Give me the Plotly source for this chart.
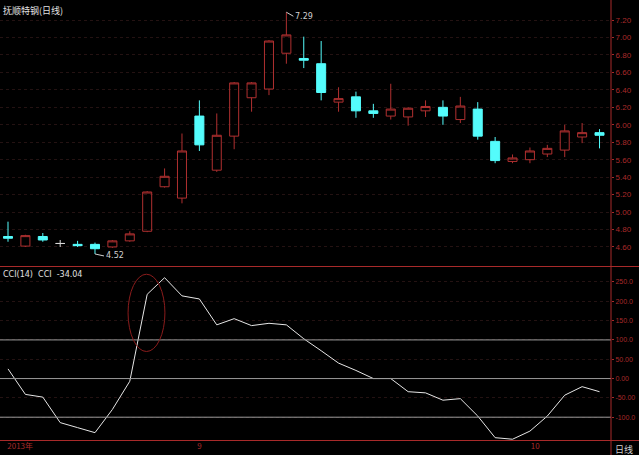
import plotly.graph_objects as go

# ---- data ----
idx = list(range(35))
opens  = [4.72, 4.61, 4.72, 4.64, 4.63, 4.63, 4.60, 4.67, 4.78, 5.29, 5.16, 6.10, 5.48, 5.87, 6.31, 6.41, 6.82, 6.76,
          6.70, 6.26, 6.32, 6.16, 6.10, 6.09, 6.16, 6.20, 6.06, 6.18, 5.81, 5.58, 5.60, 5.665, 5.71, 5.86, 5.91]
highs  = [4.89, 4.74, 4.76, 4.68, 4.67, 4.65, 4.68, 4.78, 5.24, 5.50, 5.90, 6.28, 6.13, 6.49, 6.49, 6.97, 7.29, 7.01,
          6.96, 6.43, 6.38, 6.24, 6.47, 6.20, 6.28, 6.28, 6.32, 6.26, 5.86, 5.66, 5.74, 5.77, 6.00, 6.02, 5.95]
lows   = [4.66, 4.60, 4.66, 4.60, 4.60, 4.52, 4.59, 4.66, 4.77, 5.28, 5.10, 5.70, 5.46, 5.72, 6.15, 6.34, 6.70, 6.65,
          6.28, 6.15, 6.08, 6.08, 6.06, 5.99, 6.09, 6.00, 6.02, 5.83, 5.56, 5.56, 5.56, 5.63, 5.63, 5.79, 5.73]
closes = [4.70, 4.73, 4.68, 4.64, 4.615, 4.58, 4.67, 4.75, 5.23, 5.41, 5.70, 5.77, 5.88, 6.48, 6.48, 6.96, 7.03, 6.74,
          6.37, 6.30, 6.16, 6.13, 6.18, 6.19, 6.21, 6.10, 6.215, 5.87, 5.59, 5.62, 5.70, 5.73, 5.93, 5.91, 5.88]
cci = [25, -41, -48, -114, -127, -140, -80, -7, 218, 261, 214, 206, 139, 155, 137, 143, 139, 103, 72, 40,
       21, 0, 0, -34, -37, -56, -52, -97, -153, -157, -136, -97, -43, -21, -34.04]
doji_idx = [3]

price_ticks = [7.20, 7.00, 6.80, 6.60, 6.40, 6.20, 6.00, 5.80, 5.60, 5.40, 5.20, 5.00, 4.80, 4.60]
price_labels = ["7.20", "7.00", "6.80", "6.60", "6.40", "6.20", "6.00", "5.80", "5.60", "5.40", "5.20", "5.00", "4.80", "4.60"]
cci_ticks = [250, 200, 150, 100, 50, 0, -50, -100]
cci_labels = ["250.0", "200.0", "150.0", "100.0", "50.00", "0.00", "-50.00", "-100.0"]
cci_lines = [100, 0, -100]
date_tick_pos = [0.7, 11, 30.3]
date_tick_labels = ["2013年", "9", "10"]
title_text = "抚顺特钢(日线)"
cci_title = "CCI(14)  CCI  -34.04"
high_label = "7.29"
low_label = "4.52"

RED = "#a82a2a"
CYAN = "#54fcfc"

main = [i for i in idx if i not in doji_idx]

fig = go.Figure()
fig.add_trace(go.Candlestick(
    x=[idx[i] for i in main], open=[opens[i] for i in main], high=[highs[i] for i in main],
    low=[lows[i] for i in main], close=[closes[i] for i in main],
    increasing=dict(line=dict(color="#b03030", width=1), fillcolor="rgba(0,0,0,0)"),
    decreasing=dict(line=dict(color=CYAN, width=1), fillcolor=CYAN),
    whiskerwidth=0, xaxis="x", yaxis="y", showlegend=False, hoverinfo="skip"))
fig.add_trace(go.Candlestick(
    x=[idx[i] for i in doji_idx], open=[opens[i] for i in doji_idx], high=[highs[i] for i in doji_idx],
    low=[lows[i] for i in doji_idx], close=[closes[i] for i in doji_idx],
    increasing=dict(line=dict(color="#d8d8d8", width=1), fillcolor="#d8d8d8"),
    decreasing=dict(line=dict(color="#d8d8d8", width=1), fillcolor="#d8d8d8"),
    whiskerwidth=0, xaxis="x", yaxis="y", showlegend=False, hoverinfo="skip"))
fig.add_trace(go.Scatter(x=idx, y=cci, mode="lines", line=dict(color="#e6e6e6", width=1),
                         xaxis="x2", yaxis="y2", showlegend=False, hoverinfo="skip"))

W, H = 639, 455
xd = [0, 611 / W]
top_dom = [1 - 266 / H, 1.0]
bot_dom = [1 - 440 / H, 1 - 267 / H]

shapes = []
for v in cci_lines:
    shapes.append(dict(type="line", xref="x2", yref="y2", x0=-0.46, x1=34.66, y0=v, y1=v,
                       line=dict(color="#9a9a9a", width=1)))
# panel separators
shapes += [
    dict(type="line", xref="paper", yref="paper", x0=611 / W, x1=611 / W, y0=0, y1=1, line=dict(color=RED, width=1)),
    dict(type="line", xref="paper", yref="paper", x0=0, x1=1, y0=1 - 266.5 / H, y1=1 - 266.5 / H, line=dict(color=RED, width=1)),
    dict(type="line", xref="paper", yref="paper", x0=0, x1=1, y0=1 - 440.5 / H, y1=1 - 440.5 / H, line=dict(color=RED, width=1)),
]
# ellipse highlighting the CCI breakout
shapes.append(dict(type="circle", xref="x2", yref="y2", x0=6.9, x1=9.02, y0=70, y1=270,
                   line=dict(color="#8b1c1c", width=1)))

annotations = [
    dict(text=title_text, xref="paper", yref="paper", x=0.002, y=1 - 2 / H, xanchor="left", yanchor="top",
         showarrow=False, font=dict(color="#e0e0e0", size=9, family="Noto Sans CJK SC")),
    dict(text=cci_title, xref="paper", yref="paper", x=0.002, y=1 - 268 / H, xanchor="left", yanchor="top",
         showarrow=False, font=dict(color="#e0e0e0", size=8, family="DejaVu Sans")),
    dict(text="日线", xref="paper", yref="paper", x=1 - 4 / W, y=1 - 441 / H, xanchor="right", yanchor="top",
         showarrow=False, font=dict(color="#d0d0d0", size=9, family="Noto Sans CJK SC")),
    dict(text=high_label, x=highs.index(max(highs)), y=max(highs), xref="x", yref="y", xanchor="left", yanchor="middle",
         showarrow=True, ax=7, ay=4, arrowhead=0, arrowwidth=1, arrowcolor="#d0d0d0", standoff=0,
         font=dict(color="#d0d0d0", size=8, family="DejaVu Sans")),
    dict(text=low_label, x=lows.index(min(lows)), y=min(lows), xref="x", yref="y", xanchor="left", yanchor="middle",
         showarrow=True, ax=9, ay=2, arrowhead=0, arrowwidth=1, arrowcolor="#d0d0d0", standoff=0,
         font=dict(color="#d0d0d0", size=8, family="DejaVu Sans")),
]

fig.update_layout(
    width=W, height=H, margin=dict(l=0, r=0, t=0, b=0),
    paper_bgcolor="black", plot_bgcolor="black", boxgap=0.26,
    xaxis=dict(domain=xd, range=[-0.46, 34.66], anchor="y", showticklabels=False, showgrid=False,
               zeroline=False, rangeslider=dict(visible=False), showline=False),
    xaxis2=dict(domain=xd, range=[-0.46, 34.66], anchor="y2", matches="x", showgrid=False, zeroline=False,
                tickvals=date_tick_pos, ticktext=date_tick_labels, ticks="", showline=False,
                tickfont=dict(color=RED, size=8, family="Noto Sans CJK SC")),
    yaxis=dict(domain=top_dom, range=[4.382, 7.43], anchor="x", side="right", tickvals=price_ticks,
               ticktext=price_labels, showgrid=True, gridcolor="#241212", griddash="dot", zeroline=False,
               ticks="outside", ticklen=2, tickcolor=RED, tickfont=dict(color=RED, size=8, family="Liberation Sans")),
    yaxis2=dict(domain=bot_dom, range=[-159, 288.7], anchor="x2", side="right", tickvals=cci_ticks,
                ticktext=cci_labels, showgrid=True, gridcolor="#241212", griddash="dot", zeroline=False,
                ticks="outside", ticklen=2, tickcolor=RED, tickfont=dict(color=RED, size=7, family="Liberation Sans")),
    shapes=shapes, annotations=annotations,
)

fig.write_html("out.html", config={"displayModeBar": False, "staticPlot": True},
               post_script="document.body.style.margin='0';document.body.style.overflow='hidden';")
